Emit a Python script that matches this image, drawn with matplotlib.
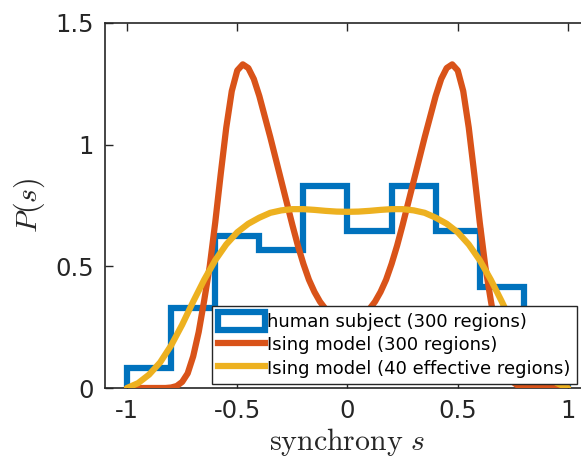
import matplotlib
matplotlib.use("Agg")
import matplotlib.pyplot as plt
from matplotlib.patches import Rectangle
from matplotlib.lines import Line2D

plt.rcParams['font.family'] = ['DejaVu Sans']
plt.rcParams['mathtext.fontset'] = 'cm'

# Histogram (human subject)
bin_edges = [-1.0, -0.8, -0.6, -0.4, -0.2, 0.0, 0.2, 0.4, 0.6, 0.8, 1.0]
human_hist = [0.083, 0.33, 0.625, 0.567, 0.83, 0.645, 0.83, 0.645, 0.415, 0.02]

# Ising model (300 regions)
s_ising300 = [-1.0, -0.9, -0.825, -0.8, -0.775, -0.75, -0.725, -0.7, -0.675, -0.65, -0.625,
              -0.6, -0.575, -0.55, -0.525, -0.5, -0.475, -0.45, -0.425, -0.4, -0.375,
              -0.35, -0.325, -0.3, -0.275, -0.25, -0.225, -0.2, -0.175, -0.15, -0.125,
              -0.1, -0.075, -0.05, -0.025, 0.0,
              0.025, 0.05, 0.075, 0.1, 0.125, 0.15, 0.175, 0.2, 0.225, 0.25, 0.275,
              0.3, 0.325, 0.35, 0.375, 0.4, 0.425, 0.45, 0.475, 0.5, 0.525, 0.55,
              0.575, 0.6, 0.625, 0.65, 0.675, 0.7, 0.725, 0.75, 0.775, 0.8, 0.825, 0.9, 1.0]
p_ising300 = [0.0, 0.0, 0.0, 0.002, 0.008, 0.025, 0.06, 0.13, 0.23, 0.36, 0.50,
              0.68, 0.88, 1.07, 1.22, 1.305, 1.33, 1.315, 1.27, 1.2, 1.115,
              1.03, 0.94, 0.85, 0.76, 0.67, 0.585, 0.51, 0.445, 0.395, 0.355,
              0.325, 0.305, 0.293, 0.287, 0.285,
              0.287, 0.293, 0.305, 0.325, 0.355, 0.395, 0.445, 0.51, 0.585, 0.67, 0.76,
              0.85, 0.94, 1.03, 1.115, 1.2, 1.27, 1.315, 1.33, 1.305, 1.22, 1.07,
              0.88, 0.68, 0.50, 0.36, 0.23, 0.13, 0.06, 0.025, 0.008, 0.002, 0.0, 0.0, 0.0]

# Ising model (40 effective regions)
s_ising40 = [-1.0, -0.95, -0.9, -0.85, -0.8, -0.75, -0.7, -0.65, -0.6, -0.55, -0.5,
             -0.45, -0.4, -0.35, -0.3, -0.25, -0.2, -0.15, -0.1, -0.05, 0.0,
             0.05, 0.1, 0.15, 0.2, 0.25, 0.3, 0.35, 0.4, 0.45, 0.5,
             0.55, 0.6, 0.65, 0.7, 0.75, 0.8, 0.85, 0.9, 0.95, 1.0]
p_ising40 = [0.0, 0.02, 0.055, 0.105, 0.175, 0.26, 0.355, 0.445, 0.525, 0.59, 0.64,
             0.675, 0.70, 0.72, 0.73, 0.735, 0.735, 0.732, 0.728, 0.725, 0.724,
             0.725, 0.728, 0.732, 0.735, 0.735, 0.73, 0.72, 0.70, 0.675, 0.64,
             0.59, 0.525, 0.445, 0.355, 0.26, 0.175, 0.105, 0.055, 0.02, 0.0]

labels = ['human subject (300 regions)', 'Ising model (300 regions)',
          'Ising model (40 effective regions)']
x_ticks = [-1, -0.5, 0, 0.5, 1]
x_ticklabels = ['-1', '-0.5', '0', '0.5', '1']
y_ticks = [0, 0.5, 1, 1.5]
y_ticklabels = ['0', '0.5', '1', '1.5']

c_blue = '#0072BD'
c_orange = '#D95319'
c_yellow = '#EDB120'
c_axis = '#262626'

fig = plt.figure(figsize=(5.81, 4.61), dpi=100)
ax = fig.add_axes([105/581, 73/461, 485/581, 365/461])

ax.stairs(human_hist, bin_edges, color=c_blue, lw=4.5, baseline=0, zorder=2)
ax.plot(s_ising300, p_ising300, color=c_orange, lw=4.5, solid_capstyle='round',
        solid_joinstyle='round', zorder=3)
ax.plot(s_ising40, p_ising40, color=c_yellow, lw=4.5, solid_capstyle='round',
        solid_joinstyle='round', zorder=4)

ax.set_xlim(-1.1, 1.1)
ax.set_ylim(0, 1.5)
ax.set_xticks(x_ticks)
ax.set_xticklabels(x_ticklabels)
ax.set_yticks(y_ticks)
ax.set_yticklabels(y_ticklabels)
ax.tick_params(direction='in', length=6, width=1.0, colors=c_axis, labelsize=17.5,
               top=True, right=True, pad=8)
for sp in ax.spines.values():
    sp.set_color(c_axis)
    sp.set_linewidth(1.2)

ax.set_xlabel(r'$\mathrm{synchrony}\ s$', fontsize=21.5, color=c_axis, labelpad=2)
ax.set_ylabel(r'$P(s)$', fontsize=21.5, color=c_axis, labelpad=6)

handles = [Rectangle((0, 0), 1, 1, facecolor='none', edgecolor=c_blue, lw=4.5),
           Line2D([], [], color=c_orange, lw=4.5),
           Line2D([], [], color=c_yellow, lw=4.5)]
leg = ax.legend(handles, labels, loc='lower left', bbox_to_anchor=(0.220, 0.011),
                borderaxespad=0, fontsize=13, fancybox=False, framealpha=1,
                edgecolor='#262626', handlelength=2.6, handletextpad=0.12,
                labelspacing=0.25, borderpad=0.35, handleheight=1.1)
leg.get_frame().set_linewidth(1.0)
leg.set_zorder(10)

fig.savefig('out.png', dpi=100)
